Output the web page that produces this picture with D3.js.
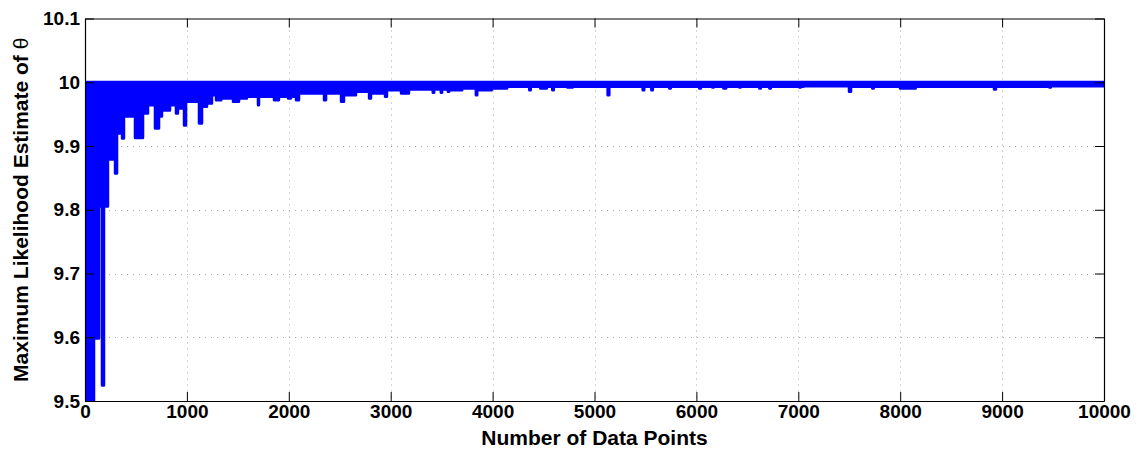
<!DOCTYPE html>
<html>
<head>
<meta charset="utf-8">
<script src="https://cdn.jsdelivr.net/npm/d3@7"></script>
<style>
  body { margin: 0; background: #fff; }
  svg { display: block; }
</style>
</head>
<body>
<script>
/*
------------------------------
DATA: tick values and the envelope of the estimate
(each row: number of data points where the level starts, lowest estimate, highest estimate)
------------------------------
*/
const xTicks = [0, 1000, 2000, 3000, 4000, 5000, 6000, 7000, 8000, 9000, 10000]
const yTicks = [9.5, 9.6, 9.7, 9.8, 9.9, 10, 10.1]
const yTickLabels = ["9.5", "9.6", "9.7", "9.8", "9.9", "10", "10.1"]

const earlyRun = [
  [0, 9.30, 10.0], [86, 9.5984, 10.0], [135, 9.8055, 10.0], [169, 9.5247, 10.0],
  [184, 9.8055, 10.0], [223, 9.8792, 10.0], [297, 9.8573, 10.0], [312, 9.9200, 10.0],
  [366, 9.9122, 10.0], [380, 9.9467, 10.0], [493, 9.9130, 10.0], [567, 9.9514, 10.0],
  [616, 9.9644, 10.0], [689, 9.9278, 10.0], [724, 9.9467, 10.0], [753, 9.9561, 10.0],
  [832, 9.9644, 10.0], [895, 9.9514, 10.0], [910, 9.9592, 10.0], [974, 9.9325, 10.0],
  [989, 9.9697, 10.0]
]

const middleRun = [
  [1121, 9.9357, 10.0], [1146, 9.9619, 10.0], [1195, 9.9671, 10.0], [1244, 9.9801, 10.0],
  [1288, 9.9722, 10.0], [1335, 9.9749, 10.0], [1455, 9.9697, 10.0], [1509, 9.9749, 10.0],
  [1587, 9.9776, 10.0], [1700, 9.9644, 10.0], [1705, 9.9776, 10.0], [1857, 9.9722, 10.0],
  [1901, 9.9776, 10.0], [1995, 9.9749, 10.0], [2019, 9.9776, 10.0], [2073, 9.9722, 10.0],
  [2098, 9.9827, 10.0], [2348, 9.9722, 10.0], [2363, 9.9827, 10.0], [2515, 9.9697, 10.0],
  [2539, 9.9801, 10.0], [2657, 9.9854, 10.0], [2790, 9.9749, 10.0], [2804, 9.9827, 10.0],
  [2947, 9.9776, 10.0], [2961, 9.9879, 10.0]
]

const lateRun = [
  [3104, 9.9827, 10.0], [3177, 9.9890, 10.0], [3415, 9.9838, 10.0], [3424, 9.9890, 10.0],
  [3494, 9.9838, 10.0], [3502, 9.9890, 10.0], [3563, 9.9854, 10.0], [3572, 9.9879, 10.0],
  [3700, 9.9906, 10.0], [3838, 9.9801, 10.0], [3847, 9.9879, 10.0], [3990, 9.9906, 10.0],
  [4140, 9.9933, 10.0], [4362, 9.9879, 10.0], [4372, 9.9933, 10.0], [4470, 9.9906, 10.0],
  [4530, 9.9933, 10.0], [4588, 9.9879, 10.0], [4598, 9.9933, 10.0], [4735, 9.9922, 10.0],
  [4785, 9.9933, 10.0], [5131, 9.9801, 10.0], [5143, 9.9933, 10.0], [5475, 9.9879, 10.0],
  [5486, 9.9933, 10.0], [5560, 9.9879, 10.0], [5570, 9.9933, 10.0], [5736, 9.9906, 10.0],
  [5746, 9.9933, 10.0], [6030, 9.9906, 10.0], [6042, 9.9933, 10.0], [6158, 9.9922, 10.0],
  [6168, 9.9933, 10.0], [6267, 9.9906, 10.0], [6290, 9.9933, 10.0], [6423, 9.9922, 10.0],
  [6433, 9.9933, 10.0], [6620, 9.9906, 10.0], [6630, 9.9933, 10.0], [6718, 9.9906, 10.0],
  [6728, 9.9933, 10.0], [7012, 9.9922, 10.0], [7022, 9.9933, 10.0], [7050, 9.9942, 10.0],
  [7500, 9.9854, 10.0], [7515, 9.9933, 10.0], [7728, 9.9906, 10.0], [7738, 9.9933, 10.0],
  [8000, 9.9906, 10.0], [8150, 9.9933, 10.0], [8923, 9.9890, 10.0], [8937, 9.9933, 10.0],
  [9466, 9.9922, 10.0], [9476, 9.9942, 10.0], [10000, 9.9942, 10.0]
]

/*
------------------------------
METHOD: set the size of the canvas
------------------------------
*/
const width = 1140
const height = 450
const plot = { left: 85, right: 1104, top: 18.5, bottom: 401 }
const font = "'Liberation Sans', Arial, Helvetica, sans-serif"

const x = d3.scaleLinear().domain([0, 10000]).range([plot.left, plot.right])
const y = d3.scaleLinear().domain([9.5, 10.1]).range([plot.bottom, plot.top])

const svg = d3.select("body").append("svg")
  .attr("width", width)
  .attr("height", height)

svg.append("defs").append("clipPath")
  .attr("id", "plot-clip")
  .append("rect")
  .attr("x", plot.left)
  .attr("y", plot.top)
  .attr("width", plot.right - plot.left)
  .attr("height", plot.bottom - plot.top)

/*
------------------------------
METHOD: dotted grid
------------------------------
*/
const grid = svg.append("g")
  .attr("stroke", "#a8a8a8")
  .attr("stroke-width", 1)
  .attr("stroke-dasharray", "1,5")

grid.selectAll("line.vx")
  .data(xTicks.slice(1, -1))
  .join("line")
  .attr("class", "vx")
  .attr("x1", d => Math.round(x(d)) + 0.5)
  .attr("x2", d => Math.round(x(d)) + 0.5)
  .attr("y1", plot.top)
  .attr("y2", plot.bottom)

grid.selectAll("line.hy")
  .data(yTicks.slice(1, -1))
  .join("line")
  .attr("class", "hy")
  .attr("y1", d => Math.round(y(d)) + 0.5)
  .attr("y2", d => Math.round(y(d)) + 0.5)
  .attr("x1", plot.left)
  .attr("x2", plot.right)

/*
------------------------------
METHOD: the estimate, drawn as its low / high envelope
------------------------------
*/
const envelope = earlyRun.concat(middleRun, lateRun)

const band = d3.area()
  .x(d => x(d[0]))
  .y0(d => y(d[1]))
  .y1(d => y(d[2]))
  .curve(d3.curveStepAfter)

svg.append("path")
  .datum(envelope)
  .attr("clip-path", "url(#plot-clip)")
  .attr("fill", "#0000ff")
  .attr("stroke", "#0000ff")
  .attr("stroke-width", 3)
  .attr("stroke-linejoin", "round")
  .attr("d", band)

/*
------------------------------
METHOD: axes (ticks inward, box all round)
------------------------------
*/
function styleAxis(g) {
  g.selectAll(".domain").attr("stroke", "#000").attr("stroke-width", 1.2)
  g.selectAll(".tick line").attr("stroke", "#000").attr("stroke-width", 1)
  g.selectAll(".tick text")
    .attr("fill", "#000")
    .style("font", `bold 19px ${font}`)
}

svg.append("g")
  .attr("transform", `translate(0,${plot.bottom})`)
  .call(d3.axisBottom(x).tickValues(xTicks).tickFormat(d3.format("d"))
    .tickSizeInner(-9).tickSizeOuter(0).tickPadding(3))
  .call(styleAxis)

svg.append("g")
  .attr("transform", `translate(0,${plot.top})`)
  .call(d3.axisTop(x).tickValues(xTicks).tickFormat("")
    .tickSizeInner(-9).tickSizeOuter(0))
  .call(styleAxis)

svg.append("g")
  .attr("transform", `translate(${plot.left},0)`)
  .call(d3.axisLeft(y).tickValues(yTicks).tickFormat((d, i) => yTickLabels[i])
    .tickSizeInner(-9).tickSizeOuter(0).tickPadding(5))
  .call(styleAxis)

svg.append("g")
  .attr("transform", `translate(${plot.right},0)`)
  .call(d3.axisRight(y).tickValues(yTicks).tickFormat("")
    .tickSizeInner(-9).tickSizeOuter(0))
  .call(styleAxis)

/*
------------------------------
METHOD: axis titles
------------------------------
*/
svg.append("text")
  .attr("x", (plot.left + plot.right) / 2)
  .attr("y", 445)
  .attr("text-anchor", "middle")
  .style("font", `bold 21px ${font}`)
  .text("Number of Data Points")

const yTitle = svg.append("text")
  .attr("transform", `translate(28,${(plot.top + plot.bottom) / 2}) rotate(-90)`)
  .attr("text-anchor", "middle")
  .style("font", `bold 21px ${font}`)

yTitle.append("tspan").text("Maximum Likelihood Estimate of ")
yTitle.append("tspan").style("font-weight", "normal").text("θ")
</script>
</body>
</html>
